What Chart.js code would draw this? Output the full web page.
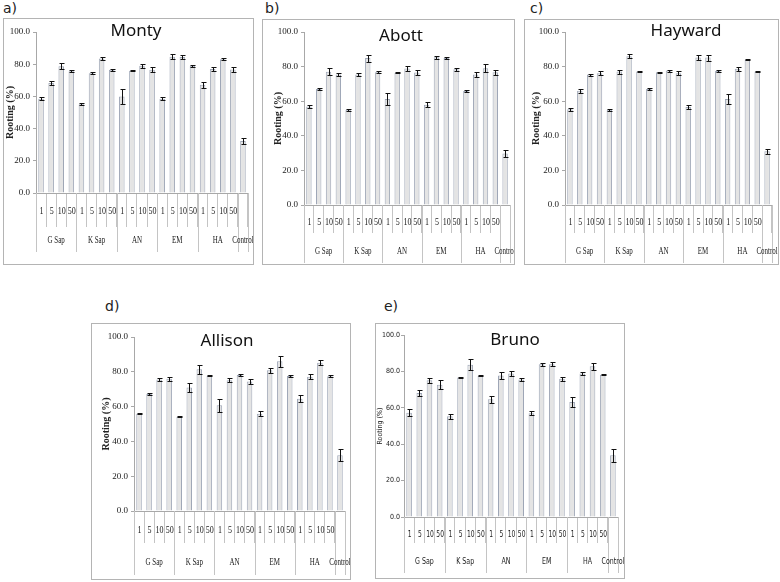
<!DOCTYPE html>
<html>
<head>
<meta charset="utf-8">
<script src="https://cdn.jsdelivr.net/npm/chart.js@4.4.0/dist/chart.umd.min.js"></script>
<style>
body { margin:0; background:#fff; width:780px; height:582px; position:relative; overflow:hidden; }
.painel { position:absolute; border:1px solid #b4b4b4; box-sizing:border-box; }
.painel canvas { position:absolute; left:0; top:0; }
.letra { position:absolute; font-family:'DejaVu Sans', sans-serif; font-size:14px; color:#222; }
</style>
</head>
<body>
<div class="letra" style="left:3px;top:0px">a)</div>
<div class="letra" style="left:265px;top:0px">b)</div>
<div class="letra" style="left:530px;top:0px">c)</div>
<div class="letra" style="left:105px;top:298px">d)</div>
<div class="letra" style="left:384px;top:298px">e)</div>
<div class="painel" style="left:3px;top:18px;width:251px;height:247px"><canvas id="grafico1"></canvas></div>
<div class="painel" style="left:262px;top:19px;width:253px;height:246px"><canvas id="grafico2"></canvas></div>
<div class="painel" style="left:524px;top:19px;width:255px;height:246px"><canvas id="grafico3"></canvas></div>
<div class="painel" style="left:91px;top:323px;width:260px;height:257px"><canvas id="grafico4"></canvas></div>
<div class="painel" style="left:375px;top:323px;width:250px;height:256px"><canvas id="grafico5"></canvas></div>
<script>
const doseLabels = ['1','5','10','50','1','5','10','50','1','5','10','50','1','5','10','50','1','5','10','50',''];
const groupLabels = ['G Sap','K Sap','AN','EM','HA','Control'];
const groupSizes = [4, 4, 4, 4, 4, 1];

const montyVals = [58.5,68.3,78.8,75.6, 55.2,74.4,83.5,76.5, 60.0,76.0,79.0,76.5, 58.5,84.6,84.4,79.0, 67.3,77.0,83.1,76.7, 32.3];
const montyErr  = [1.0,1.0,2.0,0.7, 0.5,0.7,1.0,0.8, 4.5,0.5,1.3,1.6, 1.0,1.5,1.2,0.5, 1.8,1.2,0.8,1.3, 2.0];

const abottVals = [56.9,67.0,77.0,75.5, 55.0,75.5,84.9,76.8, 61.3,76.4,78.9,76.6, 57.9,85.4,84.9,78.4, 65.9,75.5,79.1,76.8, 29.7];
const abottErr  = [1.0,0.5,2.0,1.0, 0.4,1.0,2.0,0.5, 3.3,0.3,1.5,1.5, 1.5,1.0,0.5,0.8, 0.4,1.5,2.5,1.5, 2.2];

const haywardVals = [55.4,66.0,75.4,76.2, 55.0,77.1,86.0,77.1, 67.1,76.7,77.7,76.2, 56.7,85.2,85.2,77.5, 61.3,78.8,84.0,77.1, 31.0];
const haywardErr  = [0.8,1.0,0.6,1.2, 0.4,1.2,1.2,0.4, 0.5,0.4,0.6,1.2, 1.2,1.5,1.7,0.4, 2.8,1.2,0.4,0.4, 1.5];

const allisonVals = [55.9,67.2,75.6,76.0, 54.2,71.0,81.4,77.8, 60.8,75.1,78.2,74.4, 55.9,80.9,86.0,77.6, 64.5,77.2,85.2,77.4, 32.0];
const allisonErr  = [0.4,0.5,1.0,1.0, 0.4,2.7,2.5,0.4, 3.7,1.2,0.4,1.4, 1.5,1.5,3.0,0.4, 2.0,1.3,1.5,0.5, 3.5];

const brunoVals = [57.3,68.1,75.1,72.7, 55.3,76.6,83.7,77.5, 64.7,77.8,78.8,75.6, 57.0,83.9,83.9,76.0, 63.2,78.9,82.8,78.2, 33.9];
const brunoErr  = [1.8,1.5,1.2,2.5, 1.3,0.3,3.0,0.3, 2.0,2.0,1.2,1.0, 1.2,0.7,1.2,1.0, 2.8,1.0,2.0,0.4, 3.5];

const serif = "'Liberation Serif', 'Times New Roman', serif";
const sans = "'DejaVu Sans', sans-serif";

// posicoes em coordenadas da pagina
const paineis = [
    { id:'grafico1', box:[3,18,251,247], axisX:36, top:32, zero:193, right:248, numY:211, grpY:240, sepShort:227, sepLong:252, yTitleX:9,
      title:'Monty', titleX:136, titleY:36, fam:serif, vals:montyVals, errs:montyErr },
    { id:'grafico2', box:[262,19,253,246], axisX:304, top:32, zero:205, right:510, numY:222, grpY:251, sepShort:233, sepLong:263, yTitleX:278,
      title:'Abott', titleX:401, titleY:41, fam:serif, vals:abottVals, errs:abottErr },
    { id:'grafico3', box:[524,19,255,246], axisX:565, top:32, zero:205, right:772, numY:222, grpY:251, sepShort:233, sepLong:263, yTitleX:536,
      title:'Hayward', titleX:686, titleY:36, fam:serif, vals:haywardVals, errs:haywardErr },
    { id:'grafico4', box:[91,323,260,257], axisX:134, top:337, zero:511, right:345, numY:530, grpY:562, sepShort:543, sepLong:575, yTitleX:106,
      title:'Allison', titleX:227, titleY:346, fam:serif, vals:allisonVals, errs:allisonErr },
    { id:'grafico5', box:[375,323,250,256], axisX:404, top:335, zero:517, right:618, numY:535, grpY:562, sepShort:543, sepLong:573, yTitleX:379,
      title:'Bruno', titleX:515, titleY:345, fam:sans, vals:brunoVals, errs:brunoErr }
];

const pluginErros = {
    id: 'erros',
    afterDatasetsDraw(chart, args, opts) {
        const ctx = chart.ctx;
        const y = chart.scales.y;
        const meta = chart.getDatasetMeta(0);
        const dados = chart.data.datasets[0].data;
        ctx.save();
        ctx.strokeStyle = '#111';
        ctx.lineWidth = 1;
        meta.data.forEach((bar, i) => {
            const e = opts.valores[i];
            const y1 = Math.round(y.getPixelForValue(dados[i] + e)) + 0.5;
            const y2 = Math.round(y.getPixelForValue(dados[i] - e)) + 0.5;
            const x = Math.round(bar.x) + 0.5;
            ctx.beginPath();
            ctx.moveTo(x, y1); ctx.lineTo(x, y2);
            ctx.moveTo(x - 2, y1); ctx.lineTo(x + 3, y1);
            ctx.moveTo(x - 2, y2); ctx.lineTo(x + 3, y2);
            ctx.stroke();
        });
        ctx.restore();
    }
};

function textoEstreito(ctx, txt, x, y, f) {
    ctx.save();
    ctx.translate(x, y);
    ctx.scale(f, 1);
    ctx.fillText(txt, 0, 0);
    ctx.restore();
}

const pluginGrupos = {
    id: 'grupos',
    afterDraw(chart, args, opts) {
        const ctx = chart.ctx;
        const x = chart.scales.x;
        const meio = (x.getPixelForValue(1) - x.getPixelForValue(0)) / 2;
        ctx.save();
        ctx.strokeStyle = '#c4c4c4';
        ctx.lineWidth = 1;
        ctx.fillStyle = '#222';
        ctx.textAlign = 'center';
        ctx.textBaseline = 'middle';
        const linha = px => {
            const xx = Math.round(px) + 0.5;
            ctx.beginPath(); ctx.moveTo(xx, x.top); ctx.lineTo(xx, opts.fim); ctx.stroke();
        };
        // doses
        ctx.font = opts.tamNum + 'px ' + opts.fam;
        doseLabels.forEach((d, i) => textoEstreito(ctx, d, x.getPixelForValue(i) + 0.5, opts.yNum, opts.fator));
        // grupos
        ctx.font = opts.tamGrp + 'px ' + opts.fam;
        let inicio = 0;
        linha(x.getPixelForValue(0) - meio);
        groupSizes.forEach((n, g) => {
            const fim = inicio + n;
            linha(x.getPixelForValue(fim - 1) + meio);
            const centro = (x.getPixelForValue(inicio) + x.getPixelForValue(fim - 1)) / 2;
            textoEstreito(ctx, groupLabels[g], centro, opts.yGrp, 0.7);
            inicio = fim;
        });
        // titulo do painel
        ctx.font = "17px 'Noto Sans', sans-serif";
        ctx.fillStyle = '#111';
        ctx.textBaseline = 'alphabetic';
        ctx.fillText(opts.titulo, opts.tx, opts.ty);
        ctx.restore();
    }
};

function criarGrafico(p) {
    const el = document.getElementById(p.id);
    const ox = p.box[0] + 1, oy = p.box[1] + 1;
    const W = p.box[2] - 2, H = p.box[3] - 2;
    el.width = W;
    el.height = H;
    const bruno = p.fam === sans;
    const tituloTam = bruno ? 7 : 10;
    new Chart(el, {
        type: 'bar',
        data: {
            labels: doseLabels,
            datasets: [{
                data: p.vals,
                backgroundColor: '#e4e4e4',
                borderColor: '#9ea6b6',
                borderWidth: 1,
                barPercentage: 0.55,
                categoryPercentage: 1
            }]
        },
        options: {
            responsive: false,
            animation: false,
            layout: { padding: { top: p.top - oy, right: W - (p.right - ox), left: 0, bottom: 0 } },
            plugins: {
                legend: { display: false },
                tooltip: { enabled: false },
                erros: { valores: p.errs },
                grupos: {
                    fam: p.fam, fator: bruno ? 0.75 : 0.8, tamNum: bruno ? 8 : 10, tamGrp: bruno ? 9 : 10,
                    yNum: p.numY - oy, yGrp: p.grpY - oy, fim: p.sepLong - oy,
                    titulo: p.title, tx: p.titleX - ox, ty: p.titleY - oy
                }
            },
            scales: {
                x: {
                    grid: { offset: true, drawOnChartArea: false, tickLength: p.sepShort - p.zero, color: '#c4c4c4' },
                    border: { color: '#a8a8a8' },
                    ticks: { display: false },
                    afterFit: s => { s.height = H - (p.zero - oy); }
                },
                y: {
                    min: 0, max: 100,
                    ticks: {
                        stepSize: 20, callback: v => v.toFixed(1), color: '#222', padding: bruno ? 1 : 3,
                        font: { family: p.fam, size: bruno ? 7 : 9, weight: bruno ? 'condensed' : 'normal' }
                    },
                    grid: { drawOnChartArea: false, tickLength: 3, color: '#a8a8a8' },
                    border: { color: '#a8a8a8' },
                    title: {
                        display: true, text: 'Rooting (%)', color: '#222',
                        font: { family: p.fam, size: tituloTam, weight: bruno ? 'condensed' : 'bold' },
                        padding: { top: Math.max(0, p.yTitleX - ox - tituloTam * 0.6), bottom: 0 }
                    },
                    afterFit: s => { s.width = p.axisX - ox; }
                }
            }
        },
        plugins: [pluginErros, pluginGrupos]
    });
}

paineis.forEach(criarGrafico);
</script>
</body>
</html>
